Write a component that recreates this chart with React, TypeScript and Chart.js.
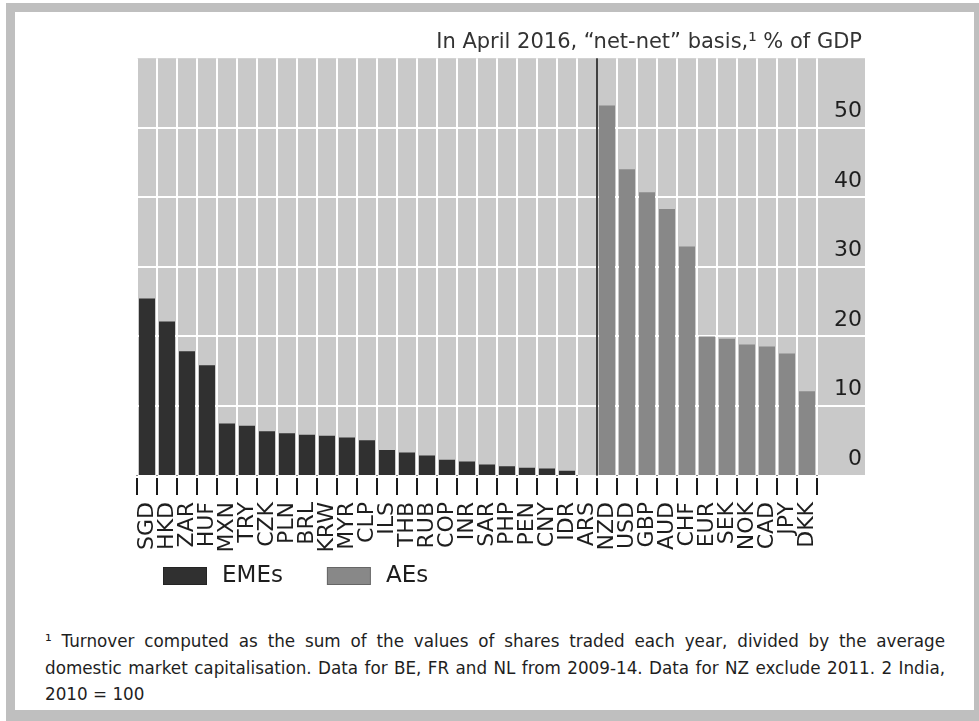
import React, { useEffect, useRef } from 'react';
import { Chart, registerables } from 'chart.js';

Chart.register(...registerables);

const emeCategories = ['SGD', 'HKD', 'ZAR', 'HUF', 'MXN', 'TRY', 'CZK', 'PLN', 'BRL', 'KRW', 'MYR', 'CLP', 'ILS', 'THB', 'RUB', 'COP', 'INR', 'SAR', 'PHP', 'PEN', 'CNY', 'IDR', 'ARS'];
const emeValues = [25.4, 22.1, 17.8, 15.8, 7.4, 7.1, 6.3, 6.0, 5.8, 5.65, 5.4, 5.0, 3.6, 3.25, 2.8, 2.2, 1.95, 1.5, 1.25, 1.05, 0.95, 0.6, 0];
const aeCategories = ['NZD', 'USD', 'GBP', 'AUD', 'CHF', 'EUR', 'SEK', 'NOK', 'CAD', 'JPY', 'DKK'];
const aeValues = [53.2, 44.0, 40.7, 38.3, 32.9, 19.95, 19.6, 18.8, 18.5, 17.5, 12.05];
const yTickValues = [0, 10, 20, 30, 40, 50];
const seriesLabels = ['EMEs', 'AEs'];
const titleText = 'In April 2016, \u201Cnet-net\u201D basis,\u00B9 % of GDP';
const footnoteLines = [
  '\u00B9 Turnover computed as the sum of the values of shares traded each year, divided by the average',
  'domestic market capitalisation. Data for BE, FR and NL from 2009-14. Data for NZ exclude 2011. 2 India,',
  '2010 = 100',
];

const FONT = '"DejaVu Sans", sans-serif';
const EME_COLOR = '#303030';
const AE_COLOR = '#888888';
const PLOT_BG = '#c9c9c9';
const TEXT_COLOR = '#1e1e1e';

const decorPlugin = {
  id: 'decor',
  beforeDraw(chart: any) {
    const { ctx, chartArea: a } = chart;
    ctx.save();
    ctx.fillStyle = PLOT_BG;
    ctx.fillRect(a.left, a.top, a.right + 48 - a.left, a.bottom - a.top);
    ctx.restore();
  },
  beforeDatasetsDraw(chart: any) {
    const { ctx, chartArea: a, scales } = chart;
    const y = scales.y;
    ctx.save();
    ctx.strokeStyle = '#ffffff';
    ctx.lineWidth = 2;
    for (const v of yTickValues) {
      if (v === 0) continue;
      const py = Math.round(y.getPixelForValue(v));
      ctx.beginPath();
      ctx.moveTo(a.left, py);
      ctx.lineTo(a.right + 48, py);
      ctx.stroke();
    }
    ctx.restore();
  },
  afterDatasetsDraw(chart: any) {
    const { ctx, chartArea: a, scales } = chart;
    const x = scales.x;
    const n = emeCategories.length;
    const px = (x.getPixelForValue(n - 1) + x.getPixelForValue(n)) / 2;
    ctx.save();
    ctx.strokeStyle = '#111111';
    ctx.lineWidth = 1.6;
    ctx.beginPath();
    ctx.moveTo(px, a.top);
    ctx.lineTo(px, a.bottom);
    ctx.stroke();
    ctx.restore();
  },
  afterDraw(chart: any) {
    const { ctx, chartArea: a } = chart;
    ctx.save();
    // small gap between plot and tick marks
    ctx.fillStyle = '#ffffff';
    ctx.fillRect(a.left - 3, a.bottom + 0.5, a.right - a.left + 6, 2.5);
    // legend
    ctx.font = '23px ' + FONT;
    ctx.textBaseline = 'middle';
    ctx.textAlign = 'left';
    let lx = a.left + 26;
    const ly = a.bottom + 101;
    chart.data.datasets.forEach((ds: any) => {
      ctx.fillStyle = ds.backgroundColor;
      ctx.fillRect(lx, ly - 9, 44, 18);
      ctx.strokeStyle = 'rgba(0,0,0,0.25)';
      ctx.lineWidth = 1;
      ctx.strokeRect(lx + 0.5, ly - 8.5, 43, 17);
      ctx.fillStyle = TEXT_COLOR;
      const tx = lx + 44 + 15;
      ctx.fillText(ds.label, tx, ly);
      lx = tx + ctx.measureText(ds.label).width + 44;
    });
    ctx.restore();
  },
};

export default function App() {
  const canvasRef = useRef<HTMLCanvasElement>(null);

  useEffect(() => {
    const categories = [...emeCategories, ...aeCategories];
    const emeData = [...emeValues, ...aeCategories.map(() => null)];
    const aeData = [...emeCategories.map(() => null), ...aeValues];

    const chart = new Chart(canvasRef.current as HTMLCanvasElement, {
      type: 'bar',
      data: {
        labels: categories,
        datasets: [
          {
            label: seriesLabels[0],
            data: emeData,
            backgroundColor: EME_COLOR,
            borderWidth: 0,
            grouped: false,
            barPercentage: 0.8,
            categoryPercentage: 1,
          } as any,
          {
            label: seriesLabels[1],
            data: aeData,
            backgroundColor: AE_COLOR,
            borderWidth: 0,
            grouped: false,
            barPercentage: 0.8,
            categoryPercentage: 1,
          } as any,
        ],
      },
      options: {
        responsive: false,
        animation: false,
        devicePixelRatio: 1,
        layout: { padding: { left: 137, right: 117, top: 0, bottom: 45 } },
        plugins: {
          legend: { display: false },
          tooltip: { enabled: false },
          title: {
            display: true,
            text: titleText,
            align: 'end',
            color: '#333333',
            font: { family: FONT, size: 21, weight: 'normal' },
            padding: { top: 30, bottom: 3 },
          },
        },
        scales: {
          x: {
            offset: true,
            border: { display: false },
            grid: {
              display: true,
              offset: true,
              color: '#ffffff',
              lineWidth: 2,
              drawTicks: true,
              tickLength: 20,
              tickColor: '#1a1a1a',
              tickWidth: 2,
            },
            ticks: {
              autoSkip: false,
              maxRotation: 90,
              minRotation: 90,
              padding: 7,
              color: TEXT_COLOR,
              font: { family: FONT, size: 22 },
            },
            afterFit: (s: any) => {
              s.height = 80;
            },
          },
          y: {
            position: 'right',
            min: 0,
            max: 60,
            border: { display: false },
            grid: { display: false },
            afterBuildTicks: (s: any) => {
              s.ticks = yTickValues.map((v) => ({ value: v }));
            },
            ticks: {
              padding: 17,
              crossAlign: 'far',
              labelOffset: -16,
              color: TEXT_COLOR,
              font: { family: FONT, size: 22 },
            },
            afterFit: (s: any) => {
              s.width = 45;
            },
          },
        },
      },
      plugins: [decorPlugin],
    } as any);

    return () => chart.destroy();
  }, []);

  return (
    <div style={{ position: 'fixed', left: 0, top: 0, width: 979, height: 721, background: '#ffffff', overflow: 'hidden' }}>
      <div
        style={{
          position: 'absolute',
          left: 6,
          top: 3,
          width: 959,
          height: 698,
          borderStyle: 'solid',
          borderColor: '#bfbfbf',
          borderWidth: '9px 12px 14px 9px',
        }}
      />
      <canvas
        ref={canvasRef}
        width={979}
        height={600}
        style={{ position: 'absolute', left: 0, top: 0, width: 979, height: 600 }}
      />
      <div
        style={{
          position: 'absolute',
          left: 45,
          top: 628,
          width: 900,
          fontFamily: FONT,
          fontSize: 16.8,
          lineHeight: '26.5px',
          color: TEXT_COLOR,
        }}
      >
        {footnoteLines.map((line, i) => (
          <div
            key={i}
            style={{
              whiteSpace: 'nowrap',
              textAlign: i < footnoteLines.length - 1 ? 'justify' : 'left',
              textAlignLast: i < footnoteLines.length - 1 ? 'justify' : 'left',
            }}
          >
            {line}
          </div>
        ))}
      </div>
    </div>
  );
}
